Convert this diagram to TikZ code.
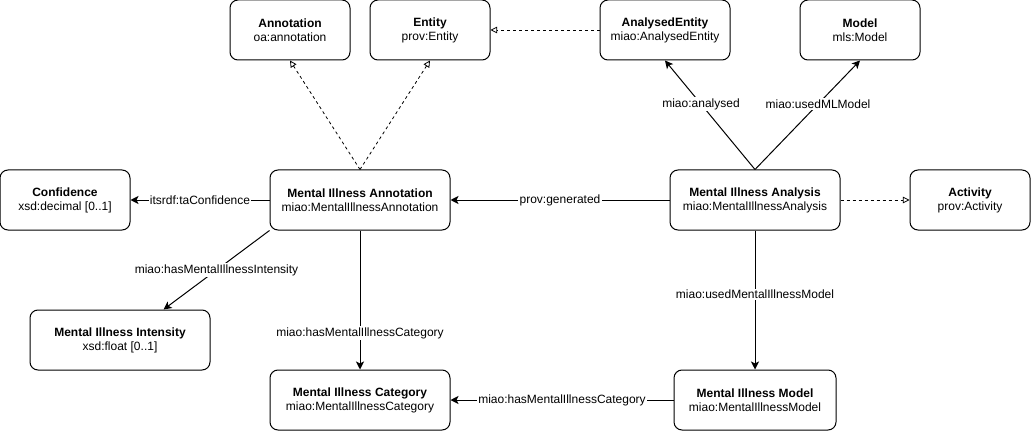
\documentclass[tikz,border=0pt]{standalone}
\usepackage{fontspec}
\setmainfont{Liberation Sans}
\usetikzlibrary{arrows.meta, calc}
\tikzset{
  class box/.style={
    draw,
    rounded corners=6pt,
    line width=0.75pt,
    align=center,
    minimum height=45pt,
    inner sep=2pt,
    font=\fontsize{9}{10.5}\selectfont
  },
  link/.style={
    -{Stealth[length=6pt, width=6pt, inset=1.5pt]},
    line width=0.75pt
  },
  sub link/.style={
    -{Triangle[open, length=5pt, width=5pt]},
    dash pattern=on 2.25pt off 2.25pt,
    line width=0.6pt
  },
  link label/.style={
    fill=white,
    inner sep=1pt,
    font=\fontsize{9}{11}\selectfont
  }
}

\begin{document}
\begin{tikzpicture}[x=0.75pt, y=-0.75pt]
    % 1 unit = 1 px of the sketch
    \useasboundingbox (0,0) rectangle (1031,431);

    % upper row
    \node[class box, minimum width=90pt] (annotation) at (290,30) {\textbf{Annotation}\\oa:annotation};
    \node[class box, minimum width=90pt] (entity) at (430,30) {\textbf{Entity}\\prov:Entity};
    \node[class box, minimum width=97.5pt] (analysedentity) at (665,30) {\textbf{AnalysedEntity}\\miao:AnalysedEntity};
    \node[class box, minimum width=90pt] (model) at (860,30) {\textbf{Model}\\mls:Model};

    % middle row
    \node[class box, minimum width=97.5pt] (confidence) at (65,200) {\textbf{Confidence}\\xsd:decimal [0..1]};
    \node[class box, minimum width=135pt] (mia) at (360,200) {\textbf{Mental Illness Annotation}\\miao:MentalIllnessAnnotation};
    \node[class box, minimum width=127.5pt] (analysis) at (755,200) {\textbf{Mental Illness Analysis}\\miao:MentalIllnessAnalysis};
    \node[class box, minimum width=90pt] (activity) at (970,200) {\textbf{Activity}\\prov:Activity};

    % lower rows
    \node[class box, minimum width=135pt] (intensity) at (120,340) {\textbf{Mental Illness Intensity}\\xsd:float [0..1]};
    \node[class box, minimum width=135pt] (category) at (360,400) {\textbf{Mental Illness Category}\\miao:MentalIllnessCategory};
    \node[class box, minimum width=121.5pt] (mimodel) at (755,400) {\textbf{Mental Illness Model}\\miao:MentalIllnessModel};

    % subclass links
    \draw[sub link] (mia.north) -- (annotation.south);
    \draw[sub link] (mia.north) -- (entity.south);
    \draw[sub link] (analysedentity.west) -- (entity.east);
    \draw[sub link] (analysis.east) -- (activity.west);

    % properties
    \draw[link] (analysis.north) -- node[link label, pos=0.6] {miao:analysed} (analysedentity.south);
    \draw[link] (analysis.north) -- node[link label, pos=0.6] {miao:usedMLModel} (model.south);
    \draw[link] (analysis.west) -- node[link label] {prov:generated} (mia.east);
    \draw[link] (analysis.south) -- node[link label, pos=0.46] {miao:usedMentalIllnessModel} (mimodel.north);
    \draw[link] (mimodel.west) -- node[link label] {miao:hasMentalIllnessCategory} (category.east);
    \draw[link] (mia.south) -- node[link label, pos=0.74] {miao:hasMentalIllnessCategory} (category.north);
    \draw[link] (mia.west) -- node[link label] {itsrdf:taConfidence} (confidence.east);
    \draw[link] (mia.south west) -- node[link label] {miao:hasMentalIllnessIntensity} (intensity.35);

\end{tikzpicture}
\end{document}
